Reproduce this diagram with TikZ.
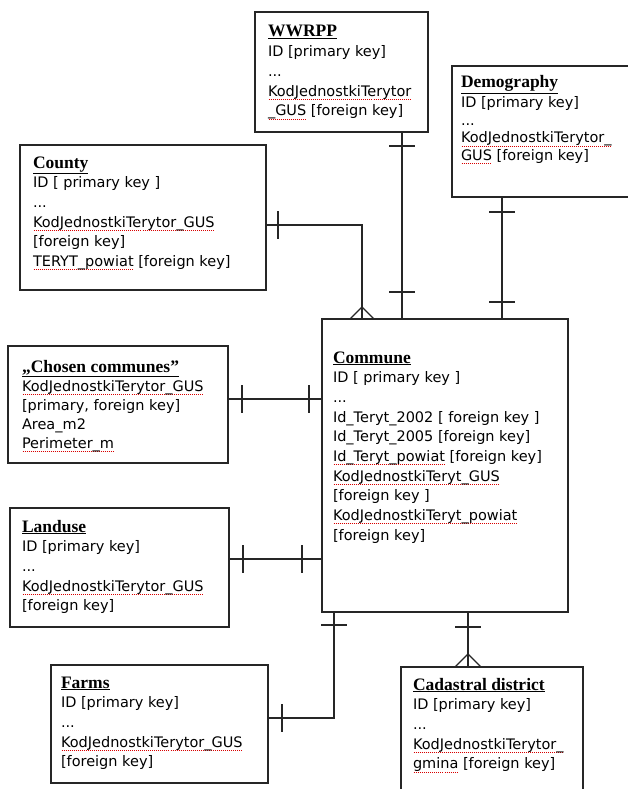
\documentclass[tikz,border=0pt]{standalone}
\usepackage{fontspec}
\setmainfont{DejaVu Sans}
\newfontfamily\titlefont{Liberation Serif}
\newsavebox\sqbox
\newcommand\sq[1]{\leavevmode\sbox\sqbox{#1}\rlap{\raisebox{-3.5pt}{\color{red!85!black}\hbox to \wd\sqbox{\xleaders\hbox to 2pt{\hss\rule{1pt}{0.7pt}\hss}\hfill}}}\usebox\sqbox}
\newcommand\ttl[1]{{\titlefont\fontsize{17.5}{17.5}\selectfont\bfseries\underline{#1}}}
\newcommand\ptext[2][19.7]{\parbox[t]{240pt}{\fontsize{14.5}{#1}\selectfont #2}}
\tikzset{
  box/.style={draw=black!85, line width=1.2pt, fill=white, anchor=north west, outer sep=0pt, inner sep=0pt},
  txt/.style={anchor=base west, inner sep=0pt, outer sep=0pt, text=black},
  conn/.style={draw=black!85, line width=1.2pt},
}
\begin{document}
\begin{tikzpicture}[x=1pt,y=-1pt]
\useasboundingbox[fill=white] (0,0) rectangle (628,789);

% boxes
\node[box, minimum width=173, minimum height=120] (wwrpp) at (255,12) {};
\node[box, minimum width=182, minimum height=131] (demo) at (452,66) {};
\node[box, minimum width=246, minimum height=145] (county) at (20,145) {};
\node[box, minimum width=220, minimum height=117] (chosen) at (8,346) {};
\node[box, minimum width=246, minimum height=293] (commune) at (322,319) {};
\node[box, minimum width=219, minimum height=119] (landuse) at (10,508) {};
\node[box, minimum width=217, minimum height=118] (farms) at (51,665) {};
\node[box, minimum width=182, minimum height=140] (cadastral) at (401,667) {};

% texts
\node[txt] (wwrppT) at (268,37) {\ptext{\ttl{WWRPP}\\ID [primary key]\\...\\\sq{KodJednostkiTerytor}\\\sq{\_GUS} [foreign key]}};
\node[txt] (demoT) at (461,88) {\ptext[17.5]{\ttl{Demography}\\[2.5pt]ID [primary key]\\...\\\sq{KodJednostkiTerytor\_}\\\sq{GUS} [foreign key]}};
\node[txt] (countyT) at (33,168) {\ptext{\ttl{County}\\ID [ primary key ]\\...\\\sq{KodJednostkiTerytor\_GUS}\\{}[foreign key]\\\sq{TERYT\_powiat} [foreign key]}};
\node[txt] (chosenT) at (22,372) {\ptext[19]{\ttl{„Chosen communes”}\\\sq{KodJednostkiTerytor\_GUS}\\{}[primary, foreign key]\\Area\_m2\\\sq{Perimeter\_m}}};
\node[txt] (communeT) at (333,363) {\ptext{\ttl{Commune}\\ID [ primary key ]\\...\\Id\_Teryt\_2002 [ foreign key ]\\Id\_Teryt\_2005 [foreign key]\\\sq{Id\_Teryt\_powiat} [foreign key]\\\sq{KodJednostkiTeryt\_GUS}\\{}[foreign key ]\\\sq{KodJednostkiTeryt\_powiat}\\{}[foreign key]}};
\node[txt] (landuseT) at (22,532) {\ptext{\ttl{Landuse}\\ID [primary key]\\...\\\sq{KodJednostkiTerytor\_GUS}\\{}[foreign key]}};
\node[txt] (farmsT) at (61,688) {\ptext{\ttl{Farms}\\ID [primary key]\\...\\\sq{KodJednostkiTerytor\_GUS}\\{}[foreign key]}};
\node[txt] (cadastralT) at (413,690) {\ptext{\ttl{Cadastral district}\\ID [primary key]\\...\\\sq{KodJednostkiTerytor\_}\\\sq{gmina} [foreign key]}};

% connectors
\draw[conn] (402,0 |- wwrpp.south) -- (402,0 |- commune.north);
\draw[conn] (502,0 |- demo.south) -- (502,0 |- commune.north);
\draw[conn] (county.east |- 0,225) -| (362,0 |- commune.north);
\draw[conn] (chosen.east |- 0,399) -- (commune.west |- 0,399);
\draw[conn] (landuse.east |- 0,559) -- (commune.west |- 0,559);
\draw[conn] (farms.east |- 0,718) -| (334,0 |- commune.south);
\draw[conn] (468,0 |- commune.south) -- (468,0 |- cadastral.north);

% ticks
\draw[conn] (389,146) -- (415,146) (389,292) -- (415,292);
\draw[conn] (489,212) -- (515,212) (489,302) -- (515,302);
\draw[conn] (278,211) -- (278,239);
\draw[conn] (242,385) -- (242,413) (309,385) -- (309,413);
\draw[conn] (243,545) -- (243,573) (302,545) -- (302,573);
\draw[conn] (282,704) -- (282,732) (321,625) -- (347,625);
\draw[conn] (455,627) -- (481,627);

% crow's feet
\draw[conn] (350,319) -- (362,307) -- (374,319);
\draw[conn] (455,667) -- (468,654) -- (481,667);
\end{tikzpicture}
\end{document}
